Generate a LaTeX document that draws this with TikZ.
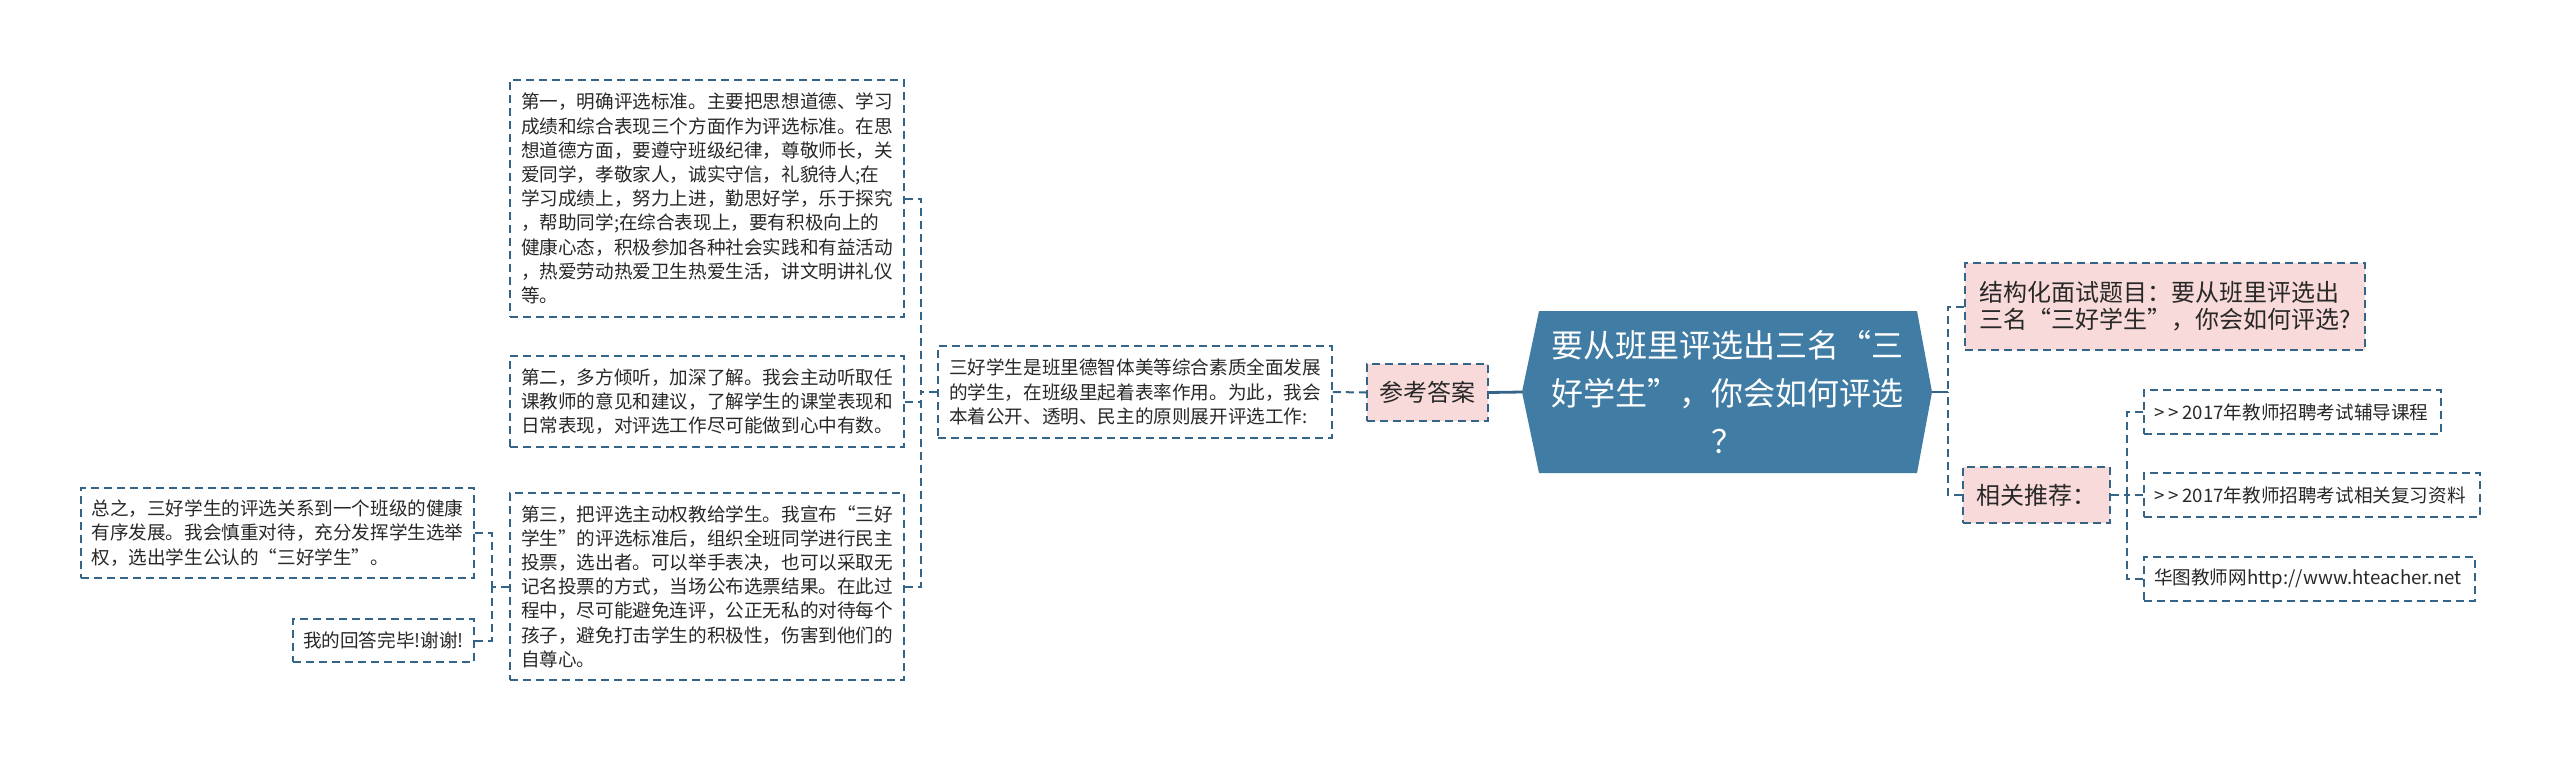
\documentclass[tikz,border=0pt]{standalone}
\usepackage{fontspec}
\setmainfont{Noto Sans CJK SC}
\definecolor{mainblue}{RGB}{64,124,163}
\definecolor{linecol}{RGB}{52,100,135}
\definecolor{pinkfill}{RGB}{249,218,218}
\definecolor{txt}{RGB}{40,40,40}
\newcommand{\gtgt}{\textgreater\kern2pt\textgreater\kern2pt}
\begin{document}
\begin{tikzpicture}[x=0.5pt,y=-0.5pt,
  tbox/.style={draw=linecol, line width=0.9pt, dash pattern=on 4pt off 2.5pt, text=txt,
    font=\fontsize{9.3pt}{12.1pt}\selectfont, align=left, inner sep=0pt, anchor=center},
  lbox/.style={tbox, inner xsep=5pt, minimum height=22pt},
  pbox/.style={tbox, fill=pinkfill, font=\fontsize{12pt}{13.5pt}\selectfont},
  conn/.style={draw=linecol, line width=1pt, dash pattern=on 4pt off 2.5pt},
  thickconn/.style={draw=linecol, line width=1.4pt}
]
\useasboundingbox (0,0) rectangle (2560,761);

% central node
\coordinate (cl) at (1522,392);
\coordinate (cr) at (1932,392);
\fill[mainblue] (1539,311) -- (1917,311) -- (cr) -- (1917,473) -- (1539,473) -- (cl) -- cycle;
\node[text=white, font=\fontsize{16pt}{24pt}\selectfont, align=center, inner sep=0pt] (center) at (1727,392)
  {要从班里评选出三名“三\\好学生”，你会如何评选\\？};

% left branch
\node[tbox, minimum width=197pt, minimum height=118.5pt] (b1) at (707,198.5)
  {第一，明确评选标准。主要把思想道德、学习\\
   成绩和综合表现三个方面作为评选标准。在思\\
   想道德方面，要遵守班级纪律，尊敬师长，关\\
   爱同学，孝敬家人，诚实守信，礼貌待人;在\\
   学习成绩上，努力上进，勤思好学，乐于探究\\
   ，帮助同学;在综合表现上，要有积极向上的\\
   健康心态，积极参加各种社会实践和有益活动\\
   ，热爱劳动热爱卫生热爱生活，讲文明讲礼仪\\
   等。};
\node[tbox, minimum width=197pt, minimum height=45.5pt] (b2) at (707,401.5)
  {第二，多方倾听，加深了解。我会主动听取任\\
   课教师的意见和建议，了解学生的课堂表现和\\
   日常表现，对评选工作尽可能做到心中有数。};
\node[tbox, minimum width=197pt, minimum height=93.5pt] (b3) at (707,586.5)
  {第三，把评选主动权教给学生。我宣布“三好\\
   学生”的评选标准后，组织全班同学进行民主\\
   投票，选出者。可以举手表决，也可以采取无\\
   记名投票的方式，当场公布选票结果。在此过\\
   程中，尽可能避免连评，公正无私的对待每个\\
   孩子，避免打击学生的积极性，伤害到他们的\\
   自尊心。};
\node[tbox, minimum width=196.5pt, minimum height=45pt] (b4) at (277.5,533)
  {总之，三好学生的评选关系到一个班级的健康\\
   有序发展。我会慎重对待，充分发挥学生选举\\
   权，选出学生公认的“三好学生”。};
\node[tbox, minimum width=90.5pt, minimum height=21.5pt] (b5) at (383.5,640.5)
  {我的回答完毕!谢谢!};
\node[tbox, minimum width=197pt, minimum height=46pt] (bS) at (1135,392)
  {三好学生是班里德智体美等综合素质全面发展\\
   的学生，在班级里起着表率作用。为此，我会\\
   本着公开、透明、民主的原则展开评选工作:};
\node[pbox, minimum width=60.5pt, minimum height=28.5pt] (ans) at (1427.5,392.5) {参考答案};

% right branch
\node[pbox, minimum width=200pt, minimum height=43.5pt] (q) at (2165,306.5)
  {结构化面试题目：要从班里评选出\\
   三名“三好学生”，你会如何评选?};
\node[pbox, minimum width=73.5pt, minimum height=28pt] (rel) at (2036.5,495) {相关推荐：};
\node[lbox, text width=138.5pt] (l1) at (2292.5,412) {\gtgt 2017年教师招聘考试辅导课程};
\node[lbox, text width=158pt] (l2) at (2312,495) {\gtgt 2017年教师招聘考试相关复习资料};
\node[lbox, text width=155.5pt] (l3) at (2309.5,579) {华图教师网http://www.hteacher.net};

% connectors
\coordinate (busA) at (492,586.5);
\draw[conn] (b3.west) -- (busA);
\draw[conn] (b4.east) -| (busA);
\draw[conn] (b5.east) -| (busA);

\coordinate (busB) at (921,392);
\draw[conn] (bS.west) -- (busB);
\draw[conn] (b1.east) -| (busB);
\draw[conn] (b2.east) -- (b2.east -| busB);
\draw[conn] (b3.east) -| (busB);

\draw[conn] (bS.east) -- (ans.west);
\draw[thickconn] (ans.east) -- (cl);

\coordinate (busC) at (1948,392);
\draw[thickconn] (cr) -- (busC);
\draw[conn] (q.west) -| (busC);
\draw[conn] (rel.west) -| (busC);

\coordinate (busD) at (2127,495);
\draw[conn] (rel.east) -- (busD);
\draw[conn] (l1.west) -| (busD);
\draw[conn] (l2.west) -- (busD);
\draw[conn] (l3.west) -| (busD);
\end{tikzpicture}
\end{document}
